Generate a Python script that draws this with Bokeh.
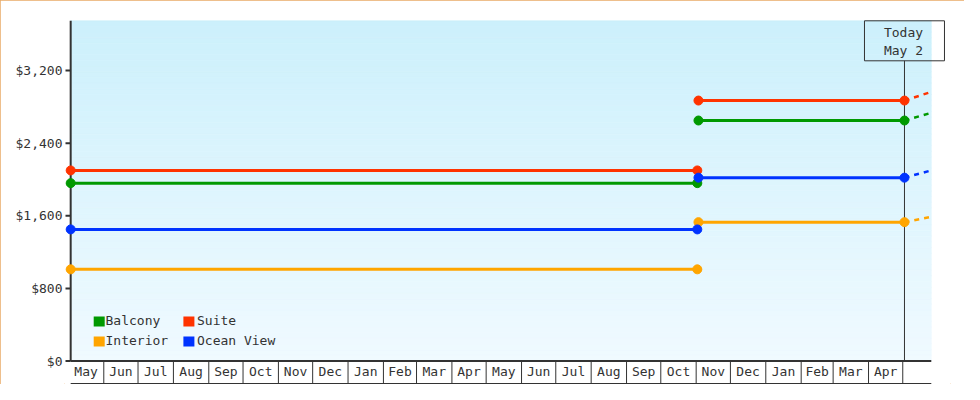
import numpy as np
import pandas as pd
from bokeh.plotting import figure
from bokeh.models import Range1d, FixedTicker, NumeralTickFormatter
from bokeh.core.properties import value
from bokeh.embed import file_html
from bokeh.resources import INLINE

# ---------------- data ----------------
categories = ["Balcony", "Suite", "Interior", "Ocean View"]
series_colors = ["#009900", "#ff3300", "#ffa500", "#0033ff"]
period1_dates = ["2023-05-03 00:00", "2024-11-02 00:00"]
period2_dates = ["2024-11-03 00:00", "2025-05-02 12:00"]
today_date = "2025-05-02 12:00"
projection_end = "2025-05-26 00:00"
price_period1 = [1960, 2100, 1010, 1450]
price_period2 = [2650, 2870, 1530, 2020]
price_projected = [2735, 2965, 1590, 2100]
y_ticks = [0, 800, 1600, 2400, 3200]
y_max = 3750
today_label = ["Today", "May 2"]
month_labels = ["May", "Jun", "Jul", "Aug", "Sep", "Oct", "Nov", "Dec",
                "Jan", "Feb", "Mar", "Apr",
                "May", "Jun", "Jul", "Aug", "Sep", "Oct", "Nov", "Dec",
                "Jan", "Feb", "Mar", "Apr"]
first_month = "2023-05-01"

# ---------------- layout constants (canvas px) ----------------
FONT = "DejaVu Sans Mono"
INK = "#333333"
X0_PX = 67.9      # canvas x of first_month
PPD = 1.1414      # px per day
Y0_PX = 360.5     # canvas y of $0
PPV = 0.09075     # px per dollar
DAY_MS = 86400000.0
W, H = 964, 384
FL, FR, FT, FB = 64, 950, 18, 384   # frame edges
TXT_DY = -5.5     # correction for text baseline placement


def ms(ts):
    return pd.Timestamp(ts).value / 1e6


D0 = ms(first_month)


def xd(px):
    return D0 + (px - X0_PX) / PPD * DAY_MS


def yd(py):
    return (Y0_PX - py) / PPV


def yt(py):
    return yd(py + TXT_DY)


START = ms(period1_dates[0])
TODAY = ms(today_date)
END = ms(projection_end)

p = figure(width=W, height=H,
           x_range=Range1d(xd(FL), xd(FR)), y_range=Range1d(yd(FB), yd(FT)),
           x_axis_location=None, y_axis_location="left",
           output_backend="svg", toolbar_location=None,
           min_border_left=FL, min_border_right=W - FR, min_border_top=FT, min_border_bottom=H - FB,
           background_fill_color="white", border_fill_color="white",
           outline_line_color=None)
p.styles = {"outline": "1px solid #e9aa66", "outline-offset": "-1px"}
p.xgrid.grid_line_color = None
p.ygrid.grid_line_color = None

ax = p.yaxis[0]
ax.ticker = FixedTicker(ticks=y_ticks)
ax.formatter = NumeralTickFormatter(format="$0,0")
ax.axis_line_color = None
ax.major_tick_line_color = None
ax.minor_tick_line_color = None
ax.major_tick_out = 0
ax.major_tick_in = 0
ax.minor_tick_out = 0
ax.minor_tick_in = 0
ax.major_label_standoff = 2
ax.major_label_text_font = FONT
ax.major_label_text_font_size = "13px"
ax.major_label_text_color = INK

# background gradient of the plotting area
n = 60
top_rgb = np.array([204, 240, 252])
bot_rgb = np.array([240, 250, 255])
edges = np.linspace(0, y_max, n + 1)
fr = (np.arange(n) + 0.5) / n
grad_cols = ["#%02x%02x%02x" % tuple(np.round(bot_rgb + (top_rgb - bot_rgb) * f).astype(int)) for f in fr]
p.quad(left=START, right=END, bottom=edges[:-1], top=edges[1:],
       fill_color=grad_cols, line_color=grad_cols, line_width=0.6)

# month band under the plot
month_starts = [ms(d) for d in pd.date_range(first_month, periods=len(month_labels) + 1, freq="MS")]
mid = [(a + b) / 2 for a, b in zip(month_starts[:-1], month_starts[1:])]
p.segment(x0=month_starts[1:], y0=0, x1=month_starts[1:], y1=yd(383), line_color=INK, line_width=1)
p.segment(x0=START, y0=0, x1=END, y1=0, line_color=INK, line_width=2)
p.segment(x0=START, y0=yd(383), x1=END, y1=yd(383), line_color=INK, line_width=1)
p.text(x=mid, y=yt(376.5), text=month_labels, text_align="center", text_baseline="alphabetic",
       text_font=value(FONT), text_font_size="13px", text_color=INK)

# y axis line and ticks
p.segment(x0=START, y0=0, x1=START, y1=y_max, line_color=INK, line_width=2)
p.segment(x0=xd(65), y0=y_ticks, x1=START, y1=y_ticks, line_color=INK, line_width=2)

# today marker
p.segment(x0=TODAY, y0=0, x1=TODAY, y1=yd(60.3), line_color=INK, line_width=1)
p.rect(x=TODAY, y=yd(40.3), width=80, height=40, width_units="screen", height_units="screen",
       fill_color=None, line_color=INK, line_width=1)
p.text(x=[TODAY, TODAY], y=[yt(37.5), yt(55.8)], text=today_label, x_offset=-1,
       text_align="center", text_baseline="alphabetic",
       text_font=value(FONT), text_font_size="13px", text_color=INK)

# series
p1x = [ms(d) for d in period1_dates]
p2x = [ms(d) for d in period2_dates]
for name, col, v1, v2, vp in zip(categories, series_colors, price_period1, price_period2, price_projected):
    p.line(x=[TODAY, END], y=[v2, vp], line_color=col, line_width=2.5, line_dash="5 5")
    p.line(x=p1x, y=[v1, v1], line_color=col, line_width=3)
    p.line(x=p2x, y=[v2, v2], line_color=col, line_width=3)
    p.scatter(x=p1x + p2x, y=[v1, v1, v2, v2], marker="circle", size=9,
              fill_color=col, line_color=col)

# legend (2 x 2)
leg_sw_x = [xd(98.7), xd(188.4), xd(98.7), xd(188.4)]
leg_sw_y = [yd(321), yd(321), yd(341), yd(341)]
leg_tx_x = [xd(105), xd(196.5), xd(105), xd(196.5)]
leg_tx_y = [yt(325.3), yt(325.3), yt(345.3), yt(345.3)]
p.rect(x=leg_sw_x, y=leg_sw_y, width=11, height=10, width_units="screen", height_units="screen",
       fill_color=series_colors, line_color=None)
p.text(x=leg_tx_x, y=leg_tx_y, text=categories, text_align="left", text_baseline="alphabetic",
       text_font=value(FONT), text_font_size="13px", text_color=INK)

open("out.html", "w").write(file_html(p, INLINE))
